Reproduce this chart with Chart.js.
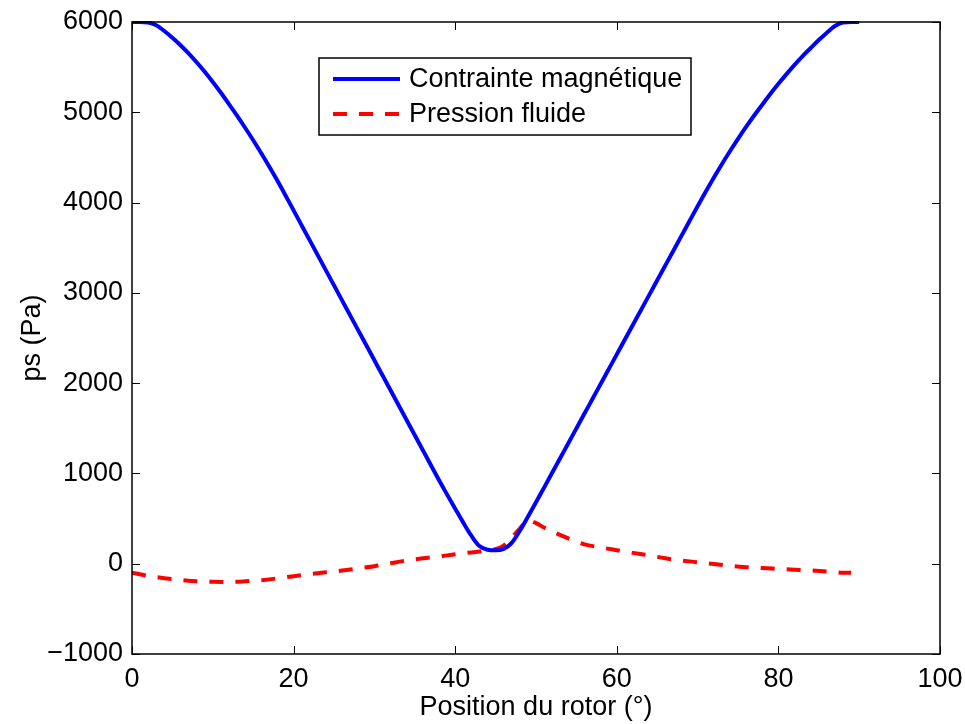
<!DOCTYPE html>
<html>
<head>
<meta charset="utf-8">
<title>Contrainte magnetique / pression fluide</title>
<script src="https://cdn.jsdelivr.net/npm/chart.js@4.4.0/dist/chart.umd.min.js"></script>
<style>
html, body { margin: 0; padding: 0; background: #fff; }
</style>
</head>
<body>
<canvas id="graficoPression" width="965" height="724"></canvas>
<script>
/* Donnees */
var positionsMag = [0, 1, 2, 3, 4, 5, 6, 7, 8, 9, 10, 11, 12, 13, 14, 15, 16, 17, 18, 19,
	20, 21, 22, 23, 24, 25, 26, 27, 28, 29, 30, 31, 32, 33, 34, 35, 36, 37, 38, 39,
	40, 41, 42, 43, 44, 45, 46, 47, 48, 49, 50, 51, 52, 53, 54, 55, 56, 57, 58, 59,
	60, 61, 62, 63, 64, 65, 66, 67, 68, 69, 70, 71, 72, 73, 74, 75, 76, 77, 78, 79,
	80, 81, 82, 83, 84, 85, 86, 87, 88, 89, 90];
var contrainteMagnetique = [6000, 6000, 5995, 5965, 5900, 5825, 5743, 5653, 5554, 5448,
	5335, 5216, 5091, 4963, 4829, 4690, 4546, 4396, 4241, 4079,
	3913, 3747, 3581, 3415, 3249, 3083, 2917, 2751, 2585, 2419,
	2253, 2087, 1921, 1755, 1589, 1423, 1257, 1091, 925, 765,
	610, 455, 310, 195, 155, 148, 163, 230, 365, 520,
	680, 843, 1007, 1171, 1335, 1499, 1663, 1827, 1991, 2155,
	2319, 2483, 2647, 2811, 2975, 3139, 3303, 3467, 3631, 3795,
	3959, 4119, 4274, 4424, 4568, 4706, 4838, 4964, 5084, 5202,
	5315, 5423, 5526, 5623, 5712, 5800, 5882, 5955, 5995, 6000, 6000];

var positionsFluide = [0, 2, 4, 6, 8, 10, 12, 14, 16, 18, 20, 22, 24, 26, 28, 30, 32, 34, 36, 38,
	40, 42, 43, 44, 45, 46, 47, 48, 49, 50, 51, 52, 54, 56, 58, 60, 62, 64, 66, 68,
	70, 72, 74, 76, 78, 80, 82, 84, 86, 88, 89];
var pressionFluide = [-100, -135, -160, -180, -195, -200, -202, -195, -182, -162,
	-138, -115, -94, -76, -52, -28, 5, 36, 60, 80,
	105, 125, 135, 145, 160, 200, 290, 390, 480, 450,
	400, 357, 280, 215, 180, 150, 120, 92, 60, 36,
	16, -3, -24, -38, -48, -57, -66, -74, -86, -99, -100];

var ticksX = [0, 20, 40, 60, 80, 100];
var ticksY = [-1000, 0, 1000, 2000, 3000, 4000, 5000, 6000];
var libelles = ['Contrainte magnétique', 'Pression fluide'];

var POLICE = '"Liberation Sans", Arial, Helvetica, sans-serif';

function enPoints(xs, ys) {
	return xs.map(function(x, i) { return { x: x, y: ys[i] }; });
}

/* cadre facon matlab : boite + graduations vers l'interieur */
var cadreMatlab = {
	id: 'cadreMatlab',
	afterDatasetsDraw: function(chart) {
		var ctx = chart.ctx, a = chart.chartArea;
		var sx = chart.scales.x, sy = chart.scales.y;
		var lg = 8;
		ctx.save();
		ctx.strokeStyle = '#000';
		ctx.lineWidth = 1;
		ctx.beginPath();
		ticksX.forEach(function(v) {
			var px = Math.round(sx.getPixelForValue(v)) + 0.5;
			ctx.moveTo(px, a.bottom); ctx.lineTo(px, a.bottom - lg);
			ctx.moveTo(px, a.top); ctx.lineTo(px, a.top + lg);
		});
		ticksY.forEach(function(v) {
			var py = Math.round(sy.getPixelForValue(v)) + 0.5;
			ctx.moveTo(a.left, py); ctx.lineTo(a.left + lg, py);
			ctx.moveTo(a.right, py); ctx.lineTo(a.right - lg, py);
		});
		ctx.stroke();
		ctx.lineWidth = 1.5;
		ctx.strokeRect(a.left, a.top, a.right - a.left, a.bottom - a.top);

		// legende
		var bx = a.left + 187, by = a.top + 36, bw = 372, bh = 77;
		ctx.fillStyle = '#fff';
		ctx.fillRect(bx, by, bw, bh);
		ctx.lineWidth = 1.5;
		ctx.strokeRect(bx, by, bw, bh);
		ctx.font = '27px ' + POLICE;
		ctx.textBaseline = 'middle';
		ctx.textAlign = 'left';
		chart.data.datasets.forEach(function(ds, i) {
			var yy = by + 21 + i * 35;
			ctx.strokeStyle = ds.borderColor;
			ctx.lineWidth = ds.borderWidth;
			ctx.setLineDash(ds.borderDash || []);
			ctx.beginPath();
			ctx.moveTo(bx + 14, yy);
			ctx.lineTo(bx + 81, yy);
			ctx.stroke();
			ctx.setLineDash([]);
			ctx.fillStyle = '#000';
			ctx.fillText(ds.label, bx + 90, yy + 1);
		});
		ctx.restore();
	}
};

function iniciar() {
	var ctx = document.getElementById('graficoPression').getContext('2d');
	new Chart(ctx, {
		type: 'line',
		data: {
			datasets: [{
				label: libelles[0],
				data: enPoints(positionsMag, contrainteMagnetique),
				borderColor: '#0000ff',
				borderWidth: 4,
				pointRadius: 0,
				cubicInterpolationMode: 'monotone',
				clip: 1,
				fill: false
			}, {
				label: libelles[1],
				data: enPoints(positionsFluide, pressionFluide),
				borderColor: '#ff0000',
				borderWidth: 4,
				borderDash: [14, 12],
				borderCapStyle: 'butt',
				pointRadius: 0,
				cubicInterpolationMode: 'monotone',
				clip: 1,
				fill: false
			}]
		},
		options: {
			responsive: false,
			animation: false,
			devicePixelRatio: 1,
			layout: { padding: { left: 0, right: 25, top: 22, bottom: 0 } },
			plugins: {
				legend: { display: false },
				tooltip: { enabled: false }
			},
			scales: {
				x: {
					type: 'linear',
					min: 0, max: 100,
					afterBuildTicks: function(s) { s.ticks = ticksX.map(function(v) { return { value: v }; }); },
					afterFit: function(s) { s.height = 70; s.paddingLeft = 0; s.paddingRight = 0; },
					grid: { display: true, drawOnChartArea: false, drawTicks: false },
					border: { display: false },
					ticks: {
						color: '#000', padding: 9, maxRotation: 0, autoSkip: false,
						font: { family: POLICE, size: 27 }
					},
					title: {
						display: true, text: 'Position du rotor (°)', color: '#000',
						padding: { top: 0, bottom: 0 },
						font: { family: POLICE, size: 27 }
					}
				},
				y: {
					type: 'linear',
					min: -1000, max: 6000,
					afterBuildTicks: function(s) { s.ticks = ticksY.map(function(v) { return { value: v }; }); },
					afterFit: function(s) { s.width = 132; s.paddingTop = 0; s.paddingBottom = 0; },
					grid: { display: true, drawOnChartArea: false, drawTicks: false },
					border: { display: false },
					ticks: {
						color: '#000', padding: 9, autoSkip: false,
						font: { family: POLICE, size: 27 },
						callback: function(v) { return v < 0 ? '\u2212' + Math.abs(v) : String(v); }
					},
					title: {
						display: true, text: 'ps (Pa)', color: '#000',
						padding: { top: 16, bottom: 0 },
						font: { family: POLICE, size: 27 }
					}
				}
			}
		},
		plugins: [cadreMatlab]
	});
}

iniciar();
</script>
</body>
</html>
